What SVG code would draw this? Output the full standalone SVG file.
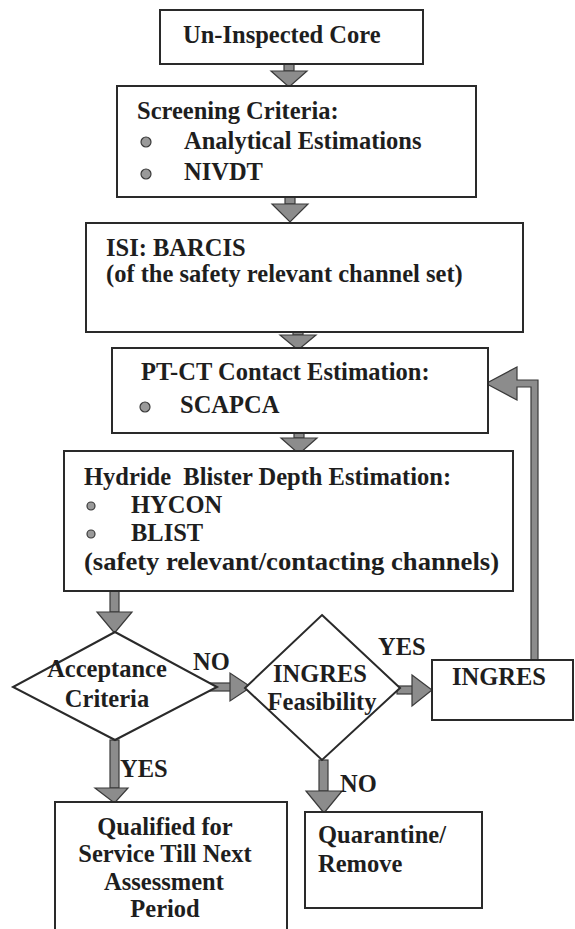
<svg xmlns="http://www.w3.org/2000/svg" width="575" height="929" viewBox="0 0 575 929">
<style>
.bx{fill:#fff;stroke:#2a2a2a;stroke-width:2}
.t{font-family:"Liberation Serif","Times New Roman",serif;font-weight:bold;font-size:24.5px;fill:#1e1e1e}
.m{text-anchor:middle}
.ar{fill:#8c8c8c;stroke:#3a3a3a;stroke-width:1.2;stroke-linejoin:miter}
.bl{fill:#9a9a9a;stroke:#3a3a3a;stroke-width:1.2}
</style>
<rect x="0" y="0" width="575" height="929" fill="#fff"/>
<g id="connectors">
<rect class="ar" x="284" y="64" width="10" height="7"/>
<polygon class="ar" points="271,71 307,71 289,87"/>
<rect class="ar" x="285" y="197" width="10" height="7"/>
<polygon class="ar" points="272,204 308,204 290,222"/>
<rect class="ar" x="293" y="329" width="10" height="6"/>
<polygon class="ar" points="280,335 316,335 298,350"/>
<rect class="ar" x="294" y="433" width="10" height="5"/>
<polygon class="ar" points="281,438 317,438 299,454"/>
<rect class="ar" x="110" y="591" width="9" height="21"/>
<polygon class="ar" points="97,612 132,612 114.5,633"/>
<rect class="ar" x="203" y="683" width="28" height="8"/>
<polygon class="ar" points="230,673 230,701 251,687"/>
<rect class="ar" x="397" y="686" width="16" height="8"/>
<polygon class="ar" points="412,675 412,706 432,690"/>
<polygon class="ar" points="531,660 531,387 517,387 517,400 486,383.5 517,367 517,380 538,380 538,660"/>
<rect class="ar" x="110" y="740" width="9" height="48"/>
<polygon class="ar" points="95,788 128,788 114.5,803"/>
<rect class="ar" x="319" y="760" width="9" height="31"/>
<polygon class="ar" points="306,791 342,791 324,813"/>
<text class="t" x="193" y="670">NO</text>
<text class="t" x="378" y="655">YES</text>
<text class="t" x="120" y="777">YES</text>
<text class="t" x="340" y="792">NO</text>
</g>
<g id="uninspected">
<rect class="bx" x="160" y="10" width="263" height="54"/>
<text class="t" x="183" y="43">Un-Inspected Core</text>
</g>
<g id="screening">
<rect class="bx" x="117" y="86" width="359" height="111"/>
<text class="t" x="137" y="119">Screening Criteria:</text>
<circle class="bl" cx="146" cy="142" r="5"/>
<text class="t" x="184" y="149">Analytical Estimations</text>
<circle class="bl" cx="146" cy="174" r="5"/>
<text class="t" x="184" y="180">NIVDT</text>
</g>
<g id="isi">
<rect class="bx" x="86" y="223" width="437" height="109"/>
<text class="t" x="106" y="256">ISI: BARCIS</text>
<text class="t" x="106" y="282">(of the safety relevant channel set)</text>
</g>
<g id="ptct">
<rect class="bx" x="112" y="348" width="376" height="85"/>
<text class="t" x="141" y="380">PT-CT Contact Estimation:</text>
<circle class="bl" cx="145" cy="407" r="5"/>
<text class="t" x="180" y="413">SCAPCA</text>
</g>
<g id="hydride">
<rect class="bx" x="64" y="451" width="449" height="140"/>
<text class="t" x="84" y="485" xml:space="preserve">Hydride  Blister Depth Estimation:</text>
<circle class="bl" cx="91" cy="506" r="4"/>
<text class="t" x="131" y="513">HYCON</text>
<circle class="bl" cx="91" cy="534" r="4"/>
<text class="t" x="131" y="541">BLIST</text>
<text class="t" x="84" y="570" textLength="415" lengthAdjust="spacingAndGlyphs">(safety relevant/contacting channels)</text>
</g>
<g id="acceptance">
<polygon class="bx" points="115,632 217,687 115,740 13,687"/>
<text class="t m" x="107" y="677">Acceptance</text>
<text class="t m" x="107" y="707">Criteria</text>
</g>
<g id="feasibility">
<polygon class="bx" points="322,615 400,688 322,760 245,688"/>
<text class="t m" x="320" y="682">INGRES</text>
<text class="t m" x="322" y="710">Feasibility</text>
</g>
<g id="ingres">
<rect class="bx" x="432" y="660" width="141" height="60"/>
<text class="t" x="452" y="685">INGRES</text>
</g>
<g id="qualified">
<rect class="bx" x="55" y="802" width="232" height="140"/>
<text class="t m" x="165" y="835">Qualified for</text>
<text class="t m" x="165" y="862">Service Till Next</text>
<text class="t m" x="164" y="890">Assessment</text>
<text class="t m" x="165" y="917">Period</text>
</g>
<g id="quarantine">
<rect class="bx" x="305" y="812" width="177" height="96"/>
<text class="t" x="318" y="843">Quarantine/</text>
<text class="t" x="318" y="872">Remove</text>
</g>
</svg>
